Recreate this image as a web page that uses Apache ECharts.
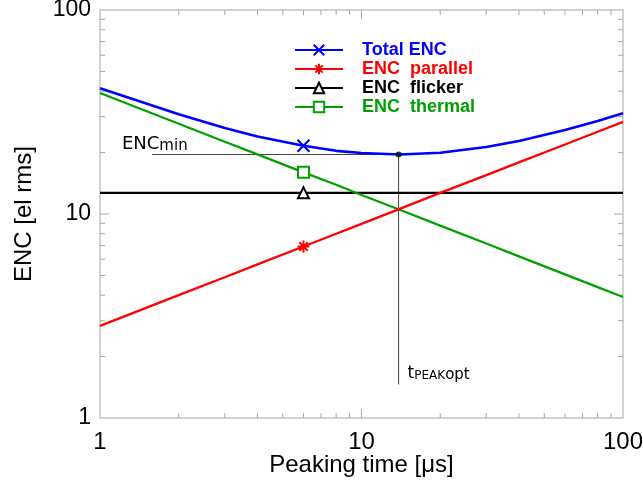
<!DOCTYPE html>
<html><head><meta charset="utf-8">
<script src="https://cdn.jsdelivr.net/npm/echarts@6/dist/echarts.min.js"></script>
<style>html,body{margin:0;padding:0;background:#fff}#c{width:643px;height:481px}</style>
</head><body><div id="c"></div>
<script>
// Peaking time [us]
const peakingTime = [1, 2, 3, 4, 6, 8, 10, 14, 20, 30, 40, 60, 80, 100];
const encTotal    = [41.3, 30.8, 26.4, 24.0, 21.6, 20.4, 19.9, 19.57, 19.95, 21.3, 22.8, 25.8, 28.6, 31.2];
const encParallel = [2.83, 4.00, 4.90, 5.66, 6.93, 8.00, 8.95, 10.6, 12.7, 15.5, 17.9, 21.9, 25.3, 28.3];
const encFlicker  = [12.7, 12.7, 12.7, 12.7, 12.7, 12.7, 12.7, 12.7, 12.7, 12.7, 12.7, 12.7, 12.7, 12.7];
const encThermal  = [39.2, 27.7, 22.6, 19.6, 16.0, 13.9, 12.4, 10.5, 8.77, 7.16, 6.20, 5.06, 4.38, 3.92];
const markerTime = 6;
const encMin = 19.57;
const tPeakOpt = 13.86;
const encMinLineStart = 1.58;
const tOptLineBottom = 1.46;
const xTickLabels = [1, 10, 100];
const yTickLabels = [1, 10, 100];
const minorTicks = [2, 3, 4, 5, 6, 7, 8, 9, 20, 30, 40, 50, 60, 70, 80, 90];
const majorTicks = [10];

const FONT = 'Liberation Sans, Arial, sans-serif';
const TICK = '#a8a8a8';

function mk(vals) {
  return peakingTime.map((t, i) => t === markerTime ? { value: [t, vals[i]] } : { value: [t, vals[i]], symbol: 'none' });
}
function lineSeries(name, vals, color, symbol, size, width) {
  return {
    name, type: 'line', data: mk(vals), symbol, symbolSize: size, showAllSymbol: true,
    lineStyle: { color, width }, itemStyle: { color, borderColor: color, borderWidth: 2 },
    emphasis: { disabled: true }, silent: true, z: 3
  };
}
const xTickData = minorTicks.map(v => [v, 5]).concat(majorTicks.map(v => [v, 9]));
const yTickData = minorTicks.map(v => [5, v]).concat(majorTicks.map(v => [9, v]));

const chart = echarts.init(document.getElementById('c'), null, { renderer: 'canvas' });
const option = {
  animation: false,
  backgroundColor: '#fff',
  grid: { left: 100, right: 20, top: 10, bottom: 63, outerBoundsMode: 'none', containLabel: false,
    show: true, borderColor: '#c4c4c4', borderWidth: 1.5, backgroundColor: 'transparent' },
  legend: {
    left: 289, top: 36, orient: 'vertical', itemWidth: 48, itemHeight: 13, itemGap: 1,
    data: [
      { name: 'Total ENC', textStyle: { color: '#0000ff' } },
      { name: 'ENC  parallel', textStyle: { color: '#ff0000' } },
      { name: 'ENC  flicker', textStyle: { color: '#000000' } },
      { name: 'ENC  thermal', textStyle: { color: '#00a000' } }
    ],
    textStyle: { fontFamily: FONT, fontSize: 18, fontWeight: 'bold', padding: [0, 0, 0, 14] }
  },
  xAxis: {
    type: 'log', logBase: 10, min: 1, max: 100,
    name: 'Peaking time [\u03bcs]', nameLocation: 'middle', nameGap: 35, nameMoveOverlap: false,
    nameTextStyle: { fontFamily: FONT, fontSize: 24, color: '#000' },
    axisLine: { show: false }, axisTick: { show: false }, splitLine: { show: false },
    axisLabel: { fontFamily: FONT, fontSize: 24, color: '#000', margin: 12,
      formatter: v => xTickLabels.includes(Math.round(v)) ? String(Math.round(v)) : '' }
  },
  yAxis: {
    type: 'log', logBase: 10, min: 1, max: 100,
    name: 'ENC [el rms]', nameLocation: 'middle', nameGap: 64, nameMoveOverlap: false,
    nameTextStyle: { fontFamily: FONT, fontSize: 24, color: '#000' },
    axisLine: { show: false }, axisTick: { show: false }, splitLine: { show: false },
    axisLabel: { fontFamily: FONT, fontSize: 23, color: '#000', margin: 9,
      formatter: v => yTickLabels.includes(Math.round(v)) ? String(Math.round(v)) : '' }
  },
  series: [
    {
      type: 'custom', silent: true, data: xTickData, z: 1, clip: false,
      renderItem(p, api) {
        const v = api.value(0), len = api.value(1);
        const b = api.coord([v, 1]), t = api.coord([v, 100]);
        return { type: 'group', children: [
          { type: 'line', shape: { x1: b[0], y1: b[1], x2: b[0], y2: b[1] - len }, style: { stroke: TICK, lineWidth: 1 } },
          { type: 'line', shape: { x1: t[0], y1: t[1], x2: t[0], y2: t[1] + len }, style: { stroke: TICK, lineWidth: 1 } }
        ] };
      }
    },
    {
      type: 'custom', silent: true, data: yTickData, z: 1, clip: false,
      renderItem(p, api) {
        const len = api.value(0), v = api.value(1);
        const l = api.coord([1, v]), r = api.coord([100, v]);
        return { type: 'group', children: [
          { type: 'line', shape: { x1: l[0], y1: l[1], x2: l[0] + len, y2: l[1] }, style: { stroke: TICK, lineWidth: 1 } },
          { type: 'line', shape: { x1: r[0], y1: r[1], x2: r[0] - len, y2: r[1] }, style: { stroke: TICK, lineWidth: 1 } }
        ] };
      }
    },
    {
      type: 'line', silent: true, symbol: 'none', z: 2,
      data: [[encMinLineStart, encMin], [tPeakOpt, encMin]],
      lineStyle: { color: '#444', width: 1 }
    },
    {
      type: 'line', silent: true, symbol: 'none', z: 2,
      data: [[tPeakOpt, encMin], [tPeakOpt, tOptLineBottom]],
      lineStyle: { color: '#444', width: 1 }
    },
    lineSeries('ENC  flicker', encFlicker, '#000000', 'emptyTriangle', 11, 2.2),
    lineSeries('ENC  thermal', encThermal, '#00a000', 'emptyRect', 11, 2.2),
    lineSeries('ENC  parallel', encParallel, '#ff0000', 'path://M5,0L5,10M0,5L10,5M1.5,1.5L8.5,8.5M8.5,1.5L1.5,8.5', 12, 2.3),
    lineSeries('Total ENC', encTotal, '#0000ff', 'path://M0,0L10,10M10,0L0,10', 12, 2.6),
    {
      type: 'scatter', silent: true, z: 6, symbol: 'circle', symbolSize: 6,
      data: [[tPeakOpt, encMin]], itemStyle: { color: '#000' }
    }
  ]
};
chart.setOption(option);

const pMin = chart.convertToPixel({ gridIndex: 0 }, [encMinLineStart, encMin]);
const pOpt = chart.convertToPixel({ gridIndex: 0 }, [tPeakOpt, tOptLineBottom]);
chart.setOption({
  graphic: [
    {
      type: 'text', left: pMin[0] - 30, top: pMin[1] - 19, z: 10,
      style: {
        text: '{a|ENC}{b|min}', fill: '#000',
        rich: {
          a: { fontFamily: 'DejaVu Sans, sans-serif', fontSize: 18, fill: '#000' },
          b: { fontFamily: 'DejaVu Sans, sans-serif', fontSize: 15, fill: '#000', padding: [4, 0, 0, 0] }
        }
      }
    },
    {
      type: 'text', left: pOpt[0] + 9, top: pOpt[1] - 19, z: 10,
      style: {
        text: '{a|t}{b|PEAK}{c|opt}', fill: '#000',
        rich: {
          a: { fontFamily: 'DejaVu Sans, sans-serif', fontSize: 17, fill: '#000' },
          b: { fontFamily: 'DejaVu Sans, sans-serif', fontSize: 12, fill: '#000', padding: [3, 0, 0, 0] },
          c: { fontFamily: 'DejaVu Sans, sans-serif', fontSize: 15, fill: '#000', padding: [2, 0, 0, 0] }
        }
      }
    }
  ]
});
</script>
</body></html>
